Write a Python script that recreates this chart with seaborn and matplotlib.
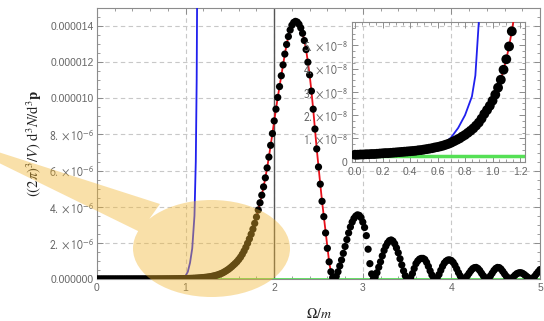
import numpy as np
import pandas as pd
import matplotlib
matplotlib.use('Agg')
import matplotlib.pyplot as plt
import seaborn as sns
from matplotlib.path import Path
from matplotlib.patches import PathPatch
from matplotlib.transforms import Affine2D
from matplotlib.ticker import MultipleLocator

# spectrum sampled every 0.02 in Omega/m, values in units of 1e-6
omega = np.linspace(0, 5, 251)
rate_e6 = [
    0.0030, 0.0030, 0.0031, 0.0031, 0.0032, 0.0032, 0.0033, 0.0033, 0.0034, 0.0035,
    0.0036, 0.0037, 0.0037, 0.0038, 0.0039, 0.0040, 0.0041, 0.0042, 0.0043, 0.0044,
    0.0045, 0.0046, 0.0047, 0.0049, 0.0050, 0.0052, 0.0054, 0.0056, 0.0058, 0.0061,
    0.0063, 0.0066, 0.0069, 0.0073, 0.0077, 0.0082, 0.0088, 0.0094, 0.0100, 0.0108,
    0.0115, 0.0124, 0.0133, 0.0143, 0.0155, 0.0168, 0.0185, 0.0205, 0.0222, 0.0240,
    0.0262, 0.0288, 0.0318, 0.0352, 0.0395, 0.0440, 0.0495, 0.0560, 0.0635, 0.0720,
    0.081, 0.091, 0.102, 0.115, 0.130, 0.150, 0.172, 0.197, 0.226, 0.260,
    0.30, 0.345, 0.40, 0.46, 0.525, 0.60, 0.68, 0.77, 0.86, 0.96,
    1.08, 1.21, 1.37, 1.55, 1.75, 1.98, 2.22, 2.48, 2.76, 3.08,
    3.43, 3.82, 4.22, 4.64, 5.10, 5.60, 6.15, 6.75, 7.40, 8.05,
    8.75, 9.40, 10.05, 10.65, 11.25, 11.85, 12.45, 12.98, 13.42, 13.78,
    14.05, 14.20, 14.26, 14.22, 14.10, 13.90, 13.60, 13.20, 12.70, 12.00,
    11.30, 10.40, 9.40, 8.30, 7.20, 6.20, 5.25, 4.30, 3.45, 2.55,
    1.70, 0.95, 0.40, 0.08, 0.02, 0.15, 0.40, 0.72, 1.05, 1.42,
    1.80, 2.18, 2.55, 2.88, 3.15, 3.35, 3.48, 3.55, 3.52, 3.40,
    3.15, 2.85, 2.40, 1.65, 0.85, 0.28, 0.02, 0.12, 0.35, 0.65,
    0.95, 1.28, 1.58, 1.82, 2.00, 2.12, 2.16, 2.10, 1.95, 1.72,
    1.45, 1.12, 0.78, 0.45, 0.18, 0.04, 0.00, 0.08, 0.30, 0.58,
    0.85, 1.00, 1.10, 1.14, 1.14, 1.08, 0.92, 0.70, 0.45, 0.22,
    0.06, 0.00, 0.08, 0.25, 0.48, 0.70, 0.88, 0.99, 1.05, 1.06,
    1.02, 0.92, 0.76, 0.56, 0.35, 0.17, 0.05, 0.00, 0.06, 0.18,
    0.32, 0.46, 0.57, 0.63, 0.64, 0.58, 0.47, 0.32, 0.18, 0.07,
    0.01, 0.05, 0.17, 0.32, 0.47, 0.58, 0.64, 0.63, 0.55, 0.42,
    0.28, 0.15, 0.06, 0.01, 0.04, 0.12, 0.22, 0.30, 0.34, 0.35,
    0.32, 0.26, 0.18, 0.10, 0.04, 0.01, 0.05, 0.15, 0.28, 0.40,
    0.52,
]
fit_end = 2.68

# approximation curve (blue)
blue_x = [0.0, 0.1, 0.2, 0.3, 0.4, 0.5, 0.6, 0.65, 0.7, 0.75, 0.8, 0.85, 0.875,
          0.9, 0.925, 0.95, 0.975, 1.0, 1.025, 1.05, 1.075, 1.1, 1.115, 1.125, 1.135]
blue_e6 = [0.0030, 0.0032, 0.0036, 0.0040, 0.0045, 0.0052, 0.0064, 0.0078, 0.0105,
           0.0145, 0.0200, 0.0280, 0.0370, 0.0600, 0.0750, 0.0900, 0.1200, 0.1800,
           0.40, 0.9, 1.7, 3.5, 6.5, 11.0, 20.0]

# constant level (green)
green_x = [-0.1, 5.1]
green_e6 = [0.0026, 0.0026]

main_yticks = [0, 2e-6, 4e-6, 6e-6, 8e-6, 1e-5, 1.2e-5, 1.4e-5]
main_ylabels = ['0.000000', r'$2.\times10^{-6}$', r'$4.\times10^{-6}$', r'$6.\times10^{-6}$',
                r'$8.\times10^{-6}$', '0.000010', '0.000012', '0.000014']
inset_yticks = [0, 1e-8, 2e-8, 3e-8, 4e-8, 5e-8]
inset_ylabels = ['0', r'$1.\times10^{-8}$', r'$2.\times10^{-8}$', r'$3.\times10^{-8}$',
                 r'$4.\times10^{-8}$', r'$5.\times10^{-8}$']

df = pd.DataFrame({'omega': omega, 'rate': np.array(rate_e6) * 1e-6})
fit = df[df.omega <= fit_end]
low = df[df.omega <= 1.3]
blue = pd.DataFrame({'omega': blue_x, 'rate': np.array(blue_e6) * 1e-6})
green = pd.DataFrame({'omega': green_x, 'rate': np.array(green_e6) * 1e-6})

sns.set_style('ticks')
plt.rcParams['font.family'] = ['Liberation Sans', 'DejaVu Sans']
plt.rcParams['mathtext.fontset'] = 'stixsans'

RED, BLUE, GREEN = '#e8101a', '#2020ee', '#55e055'
FRAME, LABEL = '#8c8c8c', '#666666'

W, H = 544, 321
fig = plt.figure(figsize=(W / 100, H / 100), dpi=100)
ax = fig.add_axes([97 / W, 42 / H, 443 / W, 271 / H])


def style(a, fs):
    for s in a.spines.values():
        s.set_color(FRAME)
        s.set_linewidth(0.8)
    a.tick_params(which='both', direction='in', top=True, right=True,
                  color=FRAME, labelcolor=LABEL, labelsize=fs)
    a.tick_params(which='major', length=4, width=0.7)
    a.tick_params(which='minor', length=2, width=0.6)


def bigger_math(labels, size):
    for lbl in labels:
        if '$' in lbl.get_text():
            lbl.set_fontsize(size)


ax.axvline(2, color='#555555', lw=1, zorder=1.5)
sns.lineplot(data=green, x='omega', y='rate', color=GREEN, lw=2, ax=ax, zorder=2)
sns.lineplot(data=blue, x='omega', y='rate', color=BLUE, lw=1.3, ax=ax, zorder=3)
sns.lineplot(data=fit, x='omega', y='rate', color=RED, lw=1.3, ax=ax, zorder=4)
sns.scatterplot(data=df, x='omega', y='rate', color='black', s=27, edgecolor='none',
                ax=ax, zorder=5)

ax.set_xlim(0, 5)
ax.set_ylim(0, 1.5e-5)
ax.xaxis.set_major_locator(MultipleLocator(1))
ax.xaxis.set_minor_locator(MultipleLocator(0.2))
ax.set_yticks(main_yticks, main_ylabels)
ax.yaxis.set_minor_locator(MultipleLocator(5e-7))
ax.grid(True, which='major', ls=(0, (4, 3)), color='#c8c8c8', lw=0.8)
style(ax, 7.5)
bigger_math(ax.get_yticklabels(), 8.5)
ax.tick_params(axis='y', pad=2)
ax.tick_params(axis='x', pad=3)

ax.set_xlabel(r'$\Omega/m$', fontsize=10, math_fontfamily='stix', color='#222222')
ax.set_ylabel(r'$((2\pi)^3/V)\ \mathrm{d}^3N/\mathrm{d}^3\mathbf{p}$', fontsize=10.5,
              math_fontfamily='stix', color='#222222')
ax.xaxis.set_label_coords(0.5, -0.105)
ax.yaxis.set_label_coords(-0.12, 0.5)

# inset: zoom on the low-energy part
ins = fig.add_axes([352 / W, (H - 161.7) / H, 173 / W, 139.7 / H])
ins.set_facecolor('none')
sns.lineplot(data=green, x='omega', y='rate', color=GREEN, lw=2.5, ax=ins, zorder=2)
sns.lineplot(data=blue, x='omega', y='rate', color=BLUE, lw=1.3, ax=ins, zorder=3)
sns.lineplot(data=low, x='omega', y='rate', color=RED, lw=1.3, ax=ins, zorder=4)
sns.scatterplot(data=low, x='omega', y='rate', color='black', s=50, edgecolor='none',
                ax=ins, zorder=5)
ins.set_xlim(-0.022, 1.236)
ins.set_ylim(0, 6.0e-8)
ins.xaxis.set_major_locator(MultipleLocator(0.2))
ins.xaxis.set_minor_locator(MultipleLocator(0.05))
ins.set_yticks(inset_yticks, inset_ylabels)
ins.yaxis.set_minor_locator(MultipleLocator(2.5e-9))
style(ins, 7.5)
bigger_math(ins.get_yticklabels(), 8.5)
ins.tick_params(axis='y', pad=3)
ins.tick_params(axis='x', pad=4)
ins.set_xlabel('')
ins.set_ylabel('')

# yellow highlight pointer drawn over the figure


def fp(x, y):
    return (x / W, 1 - y / H)


ell = Path.unit_circle().transformed(
    Affine2D().scale(157 / 2 / W, 97 / 2 / H).translate(211.5 / W, 1 - 248.5 / H))
poly = Path([fp(-5, 151), fp(-5, 161), fp(140, 232), fp(160, 204), fp(-5, 151)],
            [Path.MOVETO, Path.LINETO, Path.LINETO, Path.LINETO, Path.CLOSEPOLY])
mark = PathPatch(Path.make_compound_path(ell, poly), transform=fig.transFigure,
                 facecolor='#f2b632', edgecolor='none', alpha=0.42, zorder=10)
fig.add_artist(mark)

fig.savefig('out.png', dpi=100)
